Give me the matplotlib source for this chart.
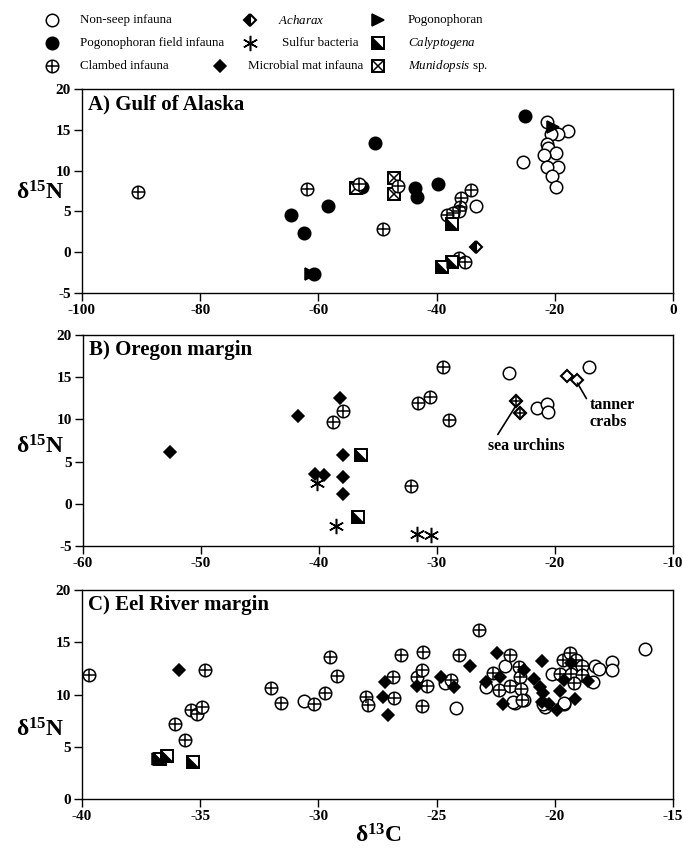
import matplotlib
matplotlib.use('Agg')
import matplotlib.pyplot as plt

plt.rcParams['font.family'] = ['Liberation Serif', 'DejaVu Serif']
plt.rcParams['mathtext.fontset'] = 'custom'
plt.rcParams['mathtext.rm'] = 'Liberation Serif'
plt.rcParams['mathtext.bf'] = 'Liberation Serif:bold'
plt.rcParams['mathtext.it'] = 'Liberation Serif:italic'
plt.rcParams['axes.unicode_minus'] = False

# ---------------- data : panel A (Gulf of Alaska) ----------------
a_nonseep_x = [-21.4, -17.8, -19.5, -20.7, -21.4, -21.2, -19.8, -21.9, -25.3, -19.4, -21.4, -20.5, -19.8, -33.4]
a_nonseep_y = [15.9, 14.9, 14.5, 14.5, 13.3, 12.8, 12.2, 11.9, 11.1, 10.5, 10.4, 9.3, 8.0, 5.7]
a_pogofield_x = [-25.0, -50.4, -52.6, -58.4, -64.6, -62.5, -60.7, -43.7, -43.3, -39.8]
a_pogofield_y = [16.7, 13.4, 8.0, 5.7, 4.5, 2.3, -2.7, 7.9, 6.8, 8.3]
a_clambed_x = [-90.5, -61.9, -53.2, -49.1, -46.6, -34.1, -35.9, -36.0, -36.2, -37.2, -38.3, -36.2, -35.2]
a_clambed_y = [7.4, 7.8, 8.3, 2.8, 8.1, 7.6, 6.6, 5.6, 5.0, 4.8, 4.6, -0.7, -1.2]
a_acharax_x = [-33.4]
a_acharax_y = [0.6]
a_pogo_x = [-20.3, -61.3]
a_pogo_y = [15.4, -2.7]
a_calyp_x = [-37.4, -37.4, -39.1]
a_calyp_y = [3.4, -1.25, -1.85]
a_munid_x = [-53.6, -47.2, -47.2]
a_munid_y = [7.9, 9.1, 7.1]

# ---------------- data : panel B (Oregon margin) ----------------
b_nonseep_x = [-23.9, -21.55, -20.7, -20.6, -17.1]
b_nonseep_y = [15.5, 11.4, 11.8, 10.9, 16.2]
b_clambed_x = [-38.0, -38.8, -29.5, -30.6, -31.6, -29.0, -32.2]
b_clambed_y = [11.0, 9.7, 16.2, 12.7, 12.0, 9.9, 2.1]
b_microbial_x = [-38.2, -41.8, -52.6, -38.0, -40.3, -39.6, -38.0, -38.0]
b_microbial_y = [12.5, 10.4, 6.1, 5.8, 3.5, 3.4, 3.2, 1.2]
b_sulfur_x = [-40.2, -38.6, -31.7, -30.5]
b_sulfur_y = [2.45, -2.6, -3.56, -3.65]
b_calyp_x = [-36.4, -36.7]
b_calyp_y = [5.8, -1.6]
b_urchin_x = [-23.3, -23.0]
b_urchin_y = [12.15, 10.7]
b_tanner_x = [-19.0, -18.1]
b_tanner_y = [15.1, 14.7]

# ---------------- data : panel C (Eel River margin) ----------------
c_nonseep_x = [-30.6, -24.2, -21.7, -21.3, -20.4, -19.6, -16.2, -18.3, -18.13, -17.57, -17.6, -18.4,
               -22.1, -22.9, -21.75, -20.13, -20.5, -19.6, -24.64]
c_nonseep_y = [9.4, 8.7, 9.2, 9.5, 8.8, 9.1, 14.4, 12.7, 12.4, 13.1, 12.3, 11.2,
               12.7, 10.7, 9.3, 12.0, 9.1, 9.2, 11.1]
c_clambed_x = [-39.7, -36.08, -35.64, -35.4, -35.13, -34.94, -34.8, -32.0, -31.6, -30.2, -29.7, -29.5,
               -29.2, -28.0, -27.9, -26.86, -26.8, -26.5, -25.84, -25.6, -25.56, -25.42, -25.6, -24.4,
               -24.05, -23.19, -22.6, -22.36, -21.9, -21.9, -21.5, -21.47, -21.45, -21.4, -19.8, -19.64,
               -19.36, -19.1, -19.3, -18.86, -18.86, -19.17]
c_clambed_y = [11.9, 7.2, 5.65, 8.5, 8.1, 8.8, 12.3, 10.65, 9.2, 9.1, 10.1, 13.6,
               11.8, 9.8, 9.0, 11.7, 9.7, 13.8, 11.7, 12.3, 14.1, 10.85, 8.9, 11.4,
               13.8, 16.2, 12.1, 10.4, 13.8, 10.8, 12.6, 11.65, 10.5, 9.5, 12.0, 13.3,
               14.0, 13.3, 12.0, 12.7, 11.9, 11.1]
c_microbial_x = [-35.9, -27.25, -27.2, -27.05, -25.84, -24.83, -24.26, -23.6, -22.46, -22.9, -22.3, -22.2,
                 -21.3, -20.87, -20.63, -20.55, -20.5, -20.55, -20.25, -19.9, -19.8, -19.6, -19.3, -19.15, -18.6]
c_microbial_y = [12.3, 9.8, 11.2, 8.0, 10.85, 11.7, 10.75, 12.7, 14.0, 11.2, 11.7, 9.1,
                 12.3, 11.45, 10.75, 13.2, 10.1, 9.3, 9.1, 8.5, 10.3, 11.4, 13.0, 9.6, 11.3]
c_pogo_x = [-36.8]
c_pogo_y = [3.8]
c_calyp_x = [-36.7, -36.4, -35.31]
c_calyp_y = [3.8, 4.1, 3.57]

legend_labels = {
    'nonseep': 'Non-seep infauna',
    'pogofield': 'Pogonophoran field infauna',
    'clambed': 'Clambed infauna',
    'acharax': r'$\it{Acharax}$',
    'sulfur': 'Sulfur bacteria',
    'microbial': 'Microbial mat infauna',
    'pogo': 'Pogonophoran',
    'calyp': r'$\it{Calyptogena}$',
    'munid': r'$\it{Munidopsis}$ sp.',
}

# ---------------- figure ----------------
W, H = 683, 848
fig = plt.figure(figsize=(W / 100, H / 100), dpi=100)

CIRC = 9.0
DIAM = 6.6
SQ = 8.2
EW = 1.1
TRI = [(-1, 1), (-1, -1), (1, -1), (-1, 1)]


def draw(ax, kind, xs, ys, z=3):
    kw = dict(ls='none', zorder=z, clip_on=False)
    if kind == 'nonseep':
        ax.plot(xs, ys, marker='o', ms=CIRC, mfc='white', mec='black', mew=EW, **kw)
    elif kind == 'pogofield':
        ax.plot(xs, ys, marker='o', ms=CIRC, mfc='black', mec='black', mew=EW, **kw)
    elif kind == 'clambed':
        ax.plot(xs, ys, marker='o', ms=CIRC, mfc='white', mec='black', mew=EW, **kw)
        ax.plot(xs, ys, marker='+', ms=CIRC, mec='black', mew=EW, **kw)
    elif kind == 'acharax':
        ax.plot(xs, ys, marker='D', ms=DIAM, fillstyle='left', mfc='black',
                markerfacecoloralt='white', mec='black', mew=EW + 0.4, **kw)
    elif kind == 'sulfur':
        ax.plot(xs, ys, marker=(6, 2, 0), ms=11, mec='black', mew=EW, **kw)
    elif kind == 'microbial':
        ax.plot(xs, ys, marker='D', ms=DIAM, mfc='black', mec='black', mew=EW, **kw)
    elif kind == 'pogo':
        ax.plot(xs, ys, marker='>', ms=CIRC, mfc='black', mec='black', mew=EW, **kw)
    elif kind == 'calyp':
        ax.plot(xs, ys, marker='s', ms=SQ, mfc='white', mec='black', mew=EW + 0.3, **kw)
        ax.plot(xs, ys, marker=TRI, ms=SQ, mfc='black', mec='black', mew=0.5, **kw)
    elif kind == 'munid':
        ax.plot(xs, ys, marker='s', ms=SQ, mfc='white', mec='black', mew=EW + 0.3, **kw)
        ax.plot(xs, ys, marker='x', ms=SQ, mec='black', mew=EW, **kw)
    elif kind == 'urchin':
        ax.plot(xs, ys, marker='D', ms=DIAM, mfc='white', mec='black', mew=EW + 0.5, **kw)
        ax.plot(xs, ys, marker='+', ms=DIAM * 1.35, mec='black', mew=EW, **kw)
    elif kind == 'tanner':
        ax.plot(xs, ys, marker='D', ms=DIAM, mfc='white', mec='black', mew=EW + 0.4, **kw)


def px_axes(left, top, right, bottom):
    return fig.add_axes([left / W, 1 - bottom / H, (right - left) / W, (bottom - top) / H])


# legend (drawn in pixel space on an invisible overlay)
lax = fig.add_axes([0, 0, 1, 1])
lax.set_xlim(0, W)
lax.set_ylim(H, 0)
lax.axis('off')
legend_layout = [
    ('nonseep', 52, 80, 20), ('pogofield', 52, 80, 43), ('clambed', 52, 80, 66),
    ('acharax', 250, 278, 20), ('sulfur', 250, 282, 43), ('microbial', 220, 248, 66),
    ('pogo', 378, 408, 20), ('calyp', 378, 408, 43), ('munid', 378, 408, 66),
]
for kind, mx, tx, ty in legend_layout:
    draw(lax, kind, [mx], [ty])
    lax.text(tx, ty, legend_labels[kind], fontsize=9.4, va='center', ha='left')


def style(ax, xlim, ylim, xticks, yticks, title):
    ax.set_xlim(*xlim)
    ax.set_ylim(*ylim)
    ax.set_xticks(xticks)
    ax.set_yticks(yticks)
    ax.tick_params(direction='out', length=6, width=1, labelsize=11, pad=2)
    for lbl in ax.get_xticklabels() + ax.get_yticklabels():
        lbl.set_fontweight('bold')
    for s in ax.spines.values():
        s.set_linewidth(1.0)
    ax.text(0.01, 0.975, title, transform=ax.transAxes, fontsize=15,
            fontweight='bold', va='top', ha='left')


axA = px_axes(82, 89, 673, 293)
style(axA, (-100, 0), (-5, 20), range(-100, 1, 20), range(-5, 21, 5), 'A) Gulf of Alaska')
draw(axA, 'nonseep', a_nonseep_x, a_nonseep_y)
draw(axA, 'pogo', a_pogo_x, a_pogo_y)
draw(axA, 'pogofield', a_pogofield_x, a_pogofield_y)
draw(axA, 'munid', a_munid_x, a_munid_y)
draw(axA, 'clambed', a_clambed_x, a_clambed_y)
draw(axA, 'acharax', a_acharax_x, a_acharax_y)
draw(axA, 'calyp', a_calyp_x, a_calyp_y)

axB = px_axes(83, 335, 673, 546)
style(axB, (-60, -10), (-5, 20), range(-60, -9, 10), range(-5, 21, 5), 'B) Oregon margin')
draw(axB, 'nonseep', b_nonseep_x, b_nonseep_y)
draw(axB, 'clambed', b_clambed_x, b_clambed_y)
draw(axB, 'microbial', b_microbial_x, b_microbial_y)
draw(axB, 'sulfur', b_sulfur_x, b_sulfur_y)
draw(axB, 'calyp', b_calyp_x, b_calyp_y)
draw(axB, 'urchin', b_urchin_x, b_urchin_y)
draw(axB, 'tanner', b_tanner_x, b_tanner_y)
axB.annotate('sea urchins', xy=(b_urchin_x[0], b_urchin_y[0] - 0.5), xytext=(-22.4, 6.8),
             fontsize=11.5, fontweight='bold', ha='center', va='center',
             arrowprops=dict(arrowstyle='-', color='black', lw=1.2, shrinkA=1, shrinkB=0,
                             relpos=(0.09, 1.0)))
axB.annotate('tanner\ncrabs', xy=(b_tanner_x[1], b_tanner_y[1] - 0.4), xytext=(-17.1, 10.7),
             fontsize=11.5, fontweight='bold', ha='left', va='center', linespacing=1.15,
             arrowprops=dict(arrowstyle='-', color='black', lw=1.2, shrinkA=0, shrinkB=0,
                             relpos=(0, 0.8)))

axC = px_axes(82, 590, 673, 799)
style(axC, (-40, -15), (0, 20), range(-40, -14, 5), range(0, 21, 5), 'C) Eel River margin')
draw(axC, 'nonseep', c_nonseep_x, c_nonseep_y)
draw(axC, 'clambed', c_clambed_x, c_clambed_y)
draw(axC, 'microbial', c_microbial_x, c_microbial_y)
draw(axC, 'pogo', c_pogo_x, c_pogo_y)
draw(axC, 'calyp', c_calyp_x, c_calyp_y)

for yc in (193, 447, 730):
    fig.text(40 / W, 1 - yc / H, r'δ$^{\mathbf{15}}$N', fontsize=17, fontweight='bold',
             ha='center', va='center')
fig.text(378 / W, 1 - 836 / H, r'δ$^{\mathbf{13}}$C', fontsize=17, fontweight='bold',
         ha='center', va='center')

fig.savefig('out.png', dpi=100)
